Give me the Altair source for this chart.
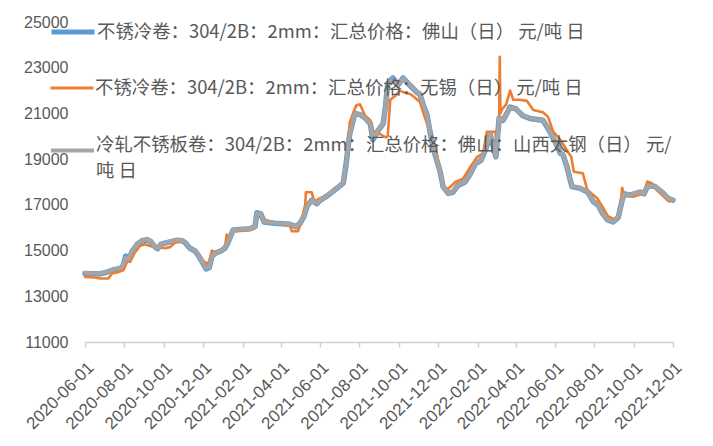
import altair as alt
import pandas as pd

series_names = [
    '不锈冷卷：304/2B：2mm：汇总价格：佛山（日） 元/吨 日',
    '不锈冷卷：304/2B：2mm：汇总价格：无锡（日） 元/吨 日',
    '冷轧不锈板卷：304/2B：2mm：汇总价格：佛山：山西太钢（日） 元/吨 日',
]
series_colors = ['#5B9BD5', '#ED7D31', '#A5A5A5']

x_ticks = ['2020-06-01', '2020-08-01', '2020-10-01', '2020-12-01', '2021-02-01',
           '2021-04-01', '2021-06-01', '2021-08-01', '2021-10-01', '2021-12-01',
           '2022-02-01', '2022-04-01', '2022-06-01', '2022-08-01', '2022-10-01',
           '2022-12-01']
y_ticks = [11000, 13000, 15000, 17000, 19000, 21000, 23000, 25000]

# 佛山 (blue) and 太钢 (gray) share the same sampling dates
foshan_dates = [
    '2020-06-01', '2020-06-24', '2020-07-05', '2020-07-14', '2020-07-22', '2020-07-28', '2020-07-31', '2020-08-03', '2020-08-07', '2020-08-14',
    '2020-08-22', '2020-08-28', '2020-09-05', '2020-09-11', '2020-09-18', '2020-09-22', '2020-09-27', '2020-10-11', '2020-10-23', '2020-10-31',
    '2020-11-05', '2020-11-11', '2020-11-19', '2020-11-25', '2020-12-01', '2020-12-06', '2020-12-11', '2020-12-15', '2020-12-21', '2020-12-29',
    '2021-01-04', '2021-01-09', '2021-01-17', '2021-01-28', '2021-02-12', '2021-02-20', '2021-02-23', '2021-03-01', '2021-03-06', '2021-03-23',
    '2021-04-15', '2021-04-25', '2021-05-01', '2021-05-07', '2021-05-12', '2021-05-19', '2021-05-27', '2021-06-01', '2021-06-07', '2021-06-16',
    '2021-06-26', '2021-07-07', '2021-07-11', '2021-07-17', '2021-07-25', '2021-08-02', '2021-08-10', '2021-08-18', '2021-08-22', '2021-08-30',
    '2021-09-07', '2021-09-11', '2021-09-14', '2021-09-22', '2021-09-30', '2021-10-08', '2021-10-16', '2021-10-23', '2021-10-30', '2021-11-03',
    '2021-11-09', '2021-11-14', '2021-11-19', '2021-11-26', '2021-12-04', '2021-12-09', '2021-12-17', '2021-12-24', '2022-01-01', '2022-01-12',
    '2022-01-20', '2022-01-28', '2022-02-06', '2022-02-14', '2022-02-20', '2022-02-25', '2022-03-01', '2022-03-06', '2022-03-12', '2022-03-18',
    '2022-03-23', '2022-04-01', '2022-04-12', '2022-04-23', '2022-05-13', '2022-05-24', '2022-06-02', '2022-06-09', '2022-06-13', '2022-06-19',
    '2022-06-27', '2022-07-10', '2022-07-22', '2022-07-30', '2022-08-07', '2022-08-13', '2022-08-21', '2022-08-30', '2022-09-07', '2022-09-13',
    '2022-09-16', '2022-09-25', '2022-10-11', '2022-10-17', '2022-10-23', '2022-11-03', '2022-11-14', '2022-11-23', '2022-12-01',
]
foshan_vals = [
    14000, 13980, 14050, 14150, 14200, 14250, 14400, 14750, 14600, 15000,
    15300, 15420, 15480, 15400, 15150, 15080, 15280, 15380, 15450, 15420,
    15300, 15100, 14980, 14750, 14450, 14200, 14250, 14750, 14900, 14980,
    15100, 15350, 15900, 15920, 15950, 16050, 16650, 16600, 16250, 16200,
    16150, 16050, 16200, 16500, 16950, 17200, 17050, 17200, 17300, 17480,
    17700, 17950, 18700, 20100, 21000, 20950, 20800, 20550, 19850, 20250,
    20550, 21400, 22300, 22550, 22250, 22550, 22300, 22100, 21900, 21850,
    21300, 20950, 20150, 19250, 18500, 17800, 17500, 17550, 17850, 18000,
    18350, 18800, 18950, 19500, 20100, 19550, 19100, 20800, 20700, 21000,
    21280, 21200, 20900, 20780, 20700, 20200, 19700, 19250, 19200, 18700,
    17800, 17720, 17550, 17150, 16980, 16650, 16350, 16250, 16450, 17200,
    17480, 17430, 17560, 17480, 17850, 17800, 17560, 17280, 17210,
]
taigang_vals = [
    14020, 13990, 14060, 14160, 14210, 14260, 14420, 14700, 14620, 15010,
    15310, 15430, 15490, 15410, 15160, 15090, 15290, 15390, 15460, 15430,
    15310, 15110, 14990, 14760, 14460, 14220, 14260, 14740, 14910, 14990,
    15110, 15360, 15900, 15930, 15960, 16060, 16620, 16590, 16260, 16210,
    16160, 16060, 16210, 16510, 16940, 17190, 17060, 17210, 17310, 17490,
    17710, 17960, 18720, 20100, 20990, 20950, 20810, 20560, 19880, 20260,
    20560, 21400, 22280, 22500, 22260, 22540, 22310, 22110, 21910, 21860,
    21310, 20960, 20160, 19260, 18510, 17810, 17510, 17560, 17860, 18010,
    18360, 18810, 18960, 19510, 20100, 19560, 19110, 20790, 20710, 21010,
    21250, 21210, 20910, 20790, 20710, 20210, 19710, 19260, 19210, 18710,
    17810, 17730, 17560, 17160, 16990, 16660, 16360, 16260, 16460, 17190,
    17470, 17440, 17570, 17490, 17840, 17800, 17570, 17290, 17220,
]

wuxi_dates = [
    '2020-06-01', '2020-06-16', '2020-06-24', '2020-07-07', '2020-07-13', '2020-07-22', '2020-07-31', '2020-08-06', '2020-08-10', '2020-08-17',
    '2020-08-25', '2020-09-02', '2020-09-10', '2020-09-18', '2020-09-25', '2020-10-03', '2020-10-11', '2020-10-19', '2020-10-31', '2020-11-06',
    '2020-11-14', '2020-11-22', '2020-11-30', '2020-12-06', '2020-12-11', '2020-12-15', '2020-12-21', '2020-12-29', '2021-01-04', '2021-01-07',
    '2021-01-12', '2021-01-17', '2021-02-12', '2021-02-20', '2021-02-23', '2021-03-03', '2021-03-08', '2021-03-23', '2021-04-15', '2021-04-18',
    '2021-04-28', '2021-05-02', '2021-05-09', '2021-05-10', '2021-05-19', '2021-05-23', '2021-06-01', '2021-06-09', '2021-06-16', '2021-06-24',
    '2021-07-02', '2021-07-08', '2021-07-13', '2021-07-17', '2021-07-27', '2021-08-02', '2021-08-10', '2021-08-18', '2021-08-24', '2021-09-02',
    '2021-09-11', '2021-09-14', '2021-09-18', '2021-09-25', '2021-10-03', '2021-10-11', '2021-10-19', '2021-10-26', '2021-11-03', '2021-11-11',
    '2021-11-19', '2021-11-28', '2021-12-06', '2021-12-10', '2021-12-17', '2021-12-28', '2022-01-09', '2022-01-20', '2022-01-31', '2022-02-09',
    '2022-02-15', '2022-02-28', '2022-03-03', '2022-03-06', '2022-03-07', '2022-03-08', '2022-03-11', '2022-03-17', '2022-03-23', '2022-03-28',
    '2022-04-07', '2022-04-18', '2022-04-28', '2022-05-13', '2022-05-21', '2022-05-29', '2022-06-09', '2022-06-19', '2022-06-26', '2022-06-30',
    '2022-07-14', '2022-07-21', '2022-08-05', '2022-08-14', '2022-08-22', '2022-09-02', '2022-09-10', '2022-09-13', '2022-09-16', '2022-09-30',
    '2022-10-11', '2022-10-17', '2022-10-22', '2022-10-29', '2022-11-06', '2022-11-19', '2022-11-25', '2022-12-01',
]
wuxi_vals = [
    13850, 13820, 13780, 13780, 14000, 14050, 14150, 14550, 14500, 14900,
    15200, 15280, 15200, 15150, 15150, 15100, 15150, 15350, 15400, 15250,
    15050, 14950, 14600, 14450, 14500, 15000, 14900, 14950, 15050, 15700,
    15500, 15850, 15900, 16000, 16600, 16550, 16350, 16200, 16100, 15850,
    15850, 16200, 17000, 17550, 17550, 17150, 17300, 17300, 17500, 17750,
    17800, 18100, 19000, 20600, 21350, 21400, 20900, 20700, 20100, 20100,
    19950, 20000, 21600, 21750, 22000, 21900, 21850, 21700, 21500, 20800,
    20200, 19400, 18300, 17800, 17700, 18000, 18150, 18650, 19100, 19250,
    20200, 20200, 19600, 20500, 23480, 21000, 21200, 21400, 22000, 21600,
    21600, 21550, 21150, 21050, 20850, 20200, 19850, 19400, 19100, 18450,
    18380, 17650, 17300, 16900, 16500, 16350, 16700, 17750, 17450, 17350,
    17450, 17500, 18020, 17950, 17650, 17300, 17150, 17200,
]


def dt(s):
    return alt.DateTime(year=int(s[:4]), month=int(s[5:7]), date=int(s[8:10]))


x_enc = alt.X('date:T',
              scale=alt.Scale(domain=[dt(x_ticks[0]), dt(x_ticks[-1])]),
              axis=alt.Axis(values=[dt(s) for s in x_ticks], format='%Y-%m-%d',
                            labelAngle=-45, labelFontSize=17, labelPadding=12,
                            tickSize=5, tickColor='#D0D0D0', domainColor='#D0D0D0',
                            domainWidth=1.5, tickWidth=1.5, grid=False, title=None,
                            labelOverlap=False))
y_enc = alt.Y('value:Q',
              scale=alt.Scale(domain=[11000, 25000]),
              axis=alt.Axis(values=y_ticks, format='d', labelFontSize=16,
                            labelPadding=17, tickSize=0, ticks=False, domain=False,
                            grid=False, title=None))


def make_legend(y, width, baseline='middle', expr=None):
    kw = dict(orient='none', legendX=-36, legendY=y, title=None, padding=0,
              symbolType='stroke', symbolSize=1849, symbolStrokeWidth=width,
              labelFont='Noto Sans CJK SC', labelFontSize=18.4, labelColor='#595959',
              labelLimit=900, labelOffset=0, labelBaseline=baseline)
    if expr:
        kw['labelExpr'] = expr
    return alt.Legend(**kw)


def line_layer(dates, vals, i, width, legend):
    df = pd.DataFrame({'date': pd.to_datetime(dates), 'value': vals, 'series': series_names[i]})
    return alt.Chart(df).mark_line(strokeWidth=width, strokeJoin='round', strokeCap='round').encode(
        x=x_enc,
        y=y_enc,
        color=alt.Color('series:N',
                        scale=alt.Scale(domain=[series_names[i]], range=[series_colors[i]]),
                        legend=legend),
    )


blue = line_layer(foshan_dates, foshan_vals, 0, 5.5, make_legend(-14, 5))
orange = line_layer(wuxi_dates, wuxi_vals, 1, 2.6, make_legend(43, 3))
gray = line_layer(foshan_dates, taigang_vals, 2, 4.0,
                  make_legend(105, 4, 'alphabetic', "[slice(datum.label, 0, -3), slice(datum.label, -3)]"))

chart = alt.layer(blue, orange, gray).resolve_scale(color='independent').properties(
    width=588,
    height=320,
    autosize=alt.AutoSizeParams(type='none'),
    padding={'left': 77, 'top': 14, 'right': 32, 'bottom': 96},
).configure(
    view=alt.ViewConfig(stroke=None),
    axis=alt.AxisConfig(labelFont='Liberation Sans', labelColor='#595959'),
    style={'guide-label': {'lineHeight': 26}},
)

chart.save("out.html", embed_options={"renderer": "svg", "actions": False})
